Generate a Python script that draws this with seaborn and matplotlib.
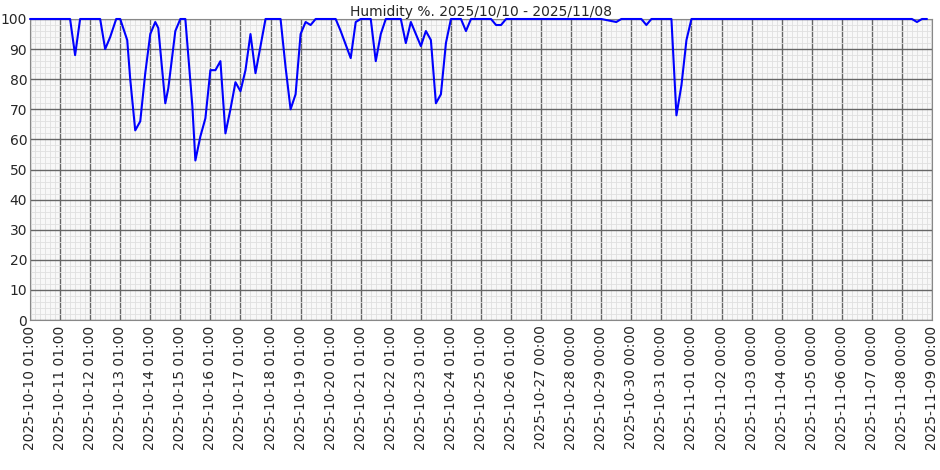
import matplotlib
matplotlib.use("Agg")
import matplotlib.pyplot as plt
import seaborn as sns
import pandas as pd
import numpy as np

# pixel-read positions converted to day offsets from 2025-10-10 01:00
px = [30, 70, 75, 80, 100, 105, 110, 116, 120, 127, 130, 135, 140, 145, 150, 155, 158,
      165, 168, 175, 180, 185, 192, 195, 200, 205, 210, 215, 220, 225, 230, 235, 240,
      245, 250, 255, 260, 265, 280, 285, 290, 295, 300, 305, 310, 315, 335, 340, 350,
      355, 360, 370, 375, 380, 385, 400, 405, 410, 420, 425, 430, 435, 440, 445, 450,
      460, 465, 470, 490, 495, 500, 505, 600, 615, 620, 640, 645, 650, 670, 675, 680,
      685, 690, 910, 915, 920, 925]
humidity = [100, 100, 88, 100, 100, 90, 94, 100, 100, 93, 80, 63, 66, 82, 95, 99, 97,
            72, 77, 96, 100, 100, 71, 53, 61, 67, 83, 83, 86, 62, 70, 79, 76,
            83, 95, 82, 91, 100, 100, 84, 70, 75, 95, 99, 98, 100, 100, 96, 87,
            99, 100, 100, 86, 95, 100, 100, 92, 99, 91, 96, 93, 72, 75, 92, 100,
            100, 96, 100, 100, 98, 98, 100, 100, 99, 100, 100, 98, 100, 100, 68, 78,
            93, 100, 100, 99, 100, 100]
days = [(p - 30) / 30 for p in px]

tick_labels = ([f"2025-10-{d:02d} 01:00" for d in range(10, 27)] +
               [f"2025-10-{d:02d} 00:00" for d in range(27, 32)] +
               [f"2025-11-{d:02d} 00:00" for d in range(1, 10)])

df = pd.DataFrame({"day": days, "humidity": humidity})

sns.set_style("white")
plt.rcParams['font.family'] = ['DejaVu Sans']
fig = plt.figure(figsize=(9.4, 4.7), dpi=100)
ax = fig.add_axes([30/940, 1 - 320/470, 902/940, 301/470])
ax.set_facecolor("#f8f8f8")

sns.lineplot(data=df, x="day", y="humidity", color="#0000ff", lw=1.5, ax=ax)
for ln in ax.lines:
    ln.set_clip_on(False)
    ln.set_zorder(5)

ax.set_xlim(0, 30)
ax.set_ylim(0, 100)
ax.set_xticks(range(31))
ax.set_xticklabels(tick_labels, rotation=90, fontsize=10)
ax.set_yticks(range(0, 101, 10))
ax.tick_params(axis="y", labelsize=10, length=0, pad=2)
ax.tick_params(axis="x", length=0, pad=4)
minor_x = [v for v in np.arange(0, 30, 1/6) if abs(v - round(v)) > 1e-6]
ax.set_xticks(minor_x, minor=True)
ax.set_yticks([v for v in range(0, 101, 2) if v % 10], minor=True)
ax.tick_params(which="minor", length=0)
ax.grid(which="minor", color="#e0e0e0", lw=0.6)
ax.grid(which="major", color="#666666", lw=1)
ax.set_axisbelow(True)
for s in ax.spines.values():
    s.set_color("#888888")
ax.set_xlabel("")
ax.set_ylabel("")
ax.set_title("Humidity %. 2025/10/10 - 2025/11/08", fontsize=10, pad=2)

fig.savefig("out.png", dpi=100)
